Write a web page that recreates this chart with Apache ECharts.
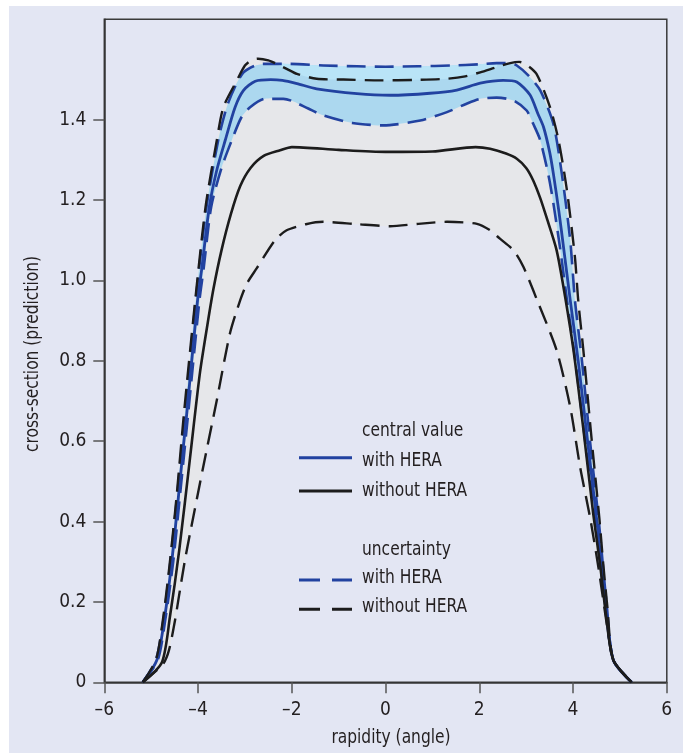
<!DOCTYPE html>
<html>
<head>
<meta charset="utf-8">
<script src="https://cdn.jsdelivr.net/npm/echarts@6/dist/echarts.min.js"></script>
<style>
  html, body { margin: 0; padding: 0; background: #ffffff; }
  #bg { position: absolute; left: 9px; top: 6px; width: 674px; height: 747px; background: #e3e6f3; }
  #chart { position: absolute; left: 0; top: 0; width: 690px; height: 755px; }
</style>
</head>
<body>
<div id="bg"></div>
<div id="chart"></div>
<script>
// ---------- data ----------
const xTicks = [-6, -4, -2, 0, 2, 4, 6];
const yTicks = [0, 0.2, 0.4, 0.6, 0.8, 1.0, 1.2, 1.4];

// central value, with HERA (blue solid)
const withCentralX = [-5.18, -4.88, -4.72, -4.56, -4.42, -4.31, -4.24, -4.01, -3.92, -3.76, -3.60, -3.42, -3.21, -3.03, -2.78, -2.45, -2.20, -1.89, -1.47, -0.61, 0.10, 0.95, 1.52, 2.02, 2.51, 2.80, 3.08, 3.25, 3.37, 3.50, 3.58, 3.70, 3.80, 3.94, 4.11, 4.33, 4.51, 4.60, 4.70, 4.86, 5.25];
const withCentralY = [0, 0.055, 0.155, 0.30, 0.46, 0.59, 0.67, 0.951, 1.03, 1.183, 1.275, 1.349, 1.431, 1.473, 1.496, 1.50, 1.498, 1.490, 1.477, 1.465, 1.461, 1.466, 1.474, 1.491, 1.498, 1.494, 1.462, 1.415, 1.382, 1.32, 1.266, 1.17, 1.08, 0.951, 0.80, 0.58, 0.40, 0.30, 0.19, 0.055, 0];

// uncertainty, with HERA (blue dashed)
const withUpperX = [-5.18, -4.90, -4.74, -4.59, -4.45, -4.28, -4.05, -3.82, -3.57, -3.39, -3.20, -3.03, -2.80, -2.61, -2.04, -1.33, -0.61, 0.00, 0.70, 1.40, 2.00, 2.37, 2.66, 2.80, 3.05, 3.30, 3.58, 3.76, 3.94, 4.04, 4.19, 4.38, 4.55, 4.63, 4.72, 4.86, 5.25];
const withUpperY = [0, 0.055, 0.155, 0.30, 0.46, 0.67, 0.951, 1.183, 1.349, 1.431, 1.485, 1.518, 1.534, 1.539, 1.539, 1.535, 1.533, 1.532, 1.533, 1.535, 1.538, 1.541, 1.541, 1.535, 1.51, 1.473, 1.390, 1.266, 1.10, 0.951, 0.80, 0.58, 0.40, 0.30, 0.19, 0.055, 0];
const withLowerX = [-5.18, -4.86, -4.70, -4.53, -4.39, -4.21, -3.97, -3.88, -3.72, -3.50, -3.28, -3.08, -2.89, -2.57, -2.18, -2.00, -1.65, -1.33, -0.71, -0.05, 0.74, 1.31, 1.73, 2.02, 2.37, 2.73, 3.01, 3.15, 3.30, 3.51, 3.72, 3.87, 4.05, 4.28, 4.48, 4.58, 4.69, 4.86, 5.25];
const withLowerY = [0, 0.055, 0.155, 0.30, 0.46, 0.67, 0.951, 1.03, 1.183, 1.28, 1.349, 1.405, 1.431, 1.452, 1.452, 1.447, 1.428, 1.411, 1.392, 1.386, 1.398, 1.419, 1.440, 1.452, 1.455, 1.448, 1.423, 1.39, 1.349, 1.241, 1.083, 0.951, 0.80, 0.58, 0.40, 0.30, 0.19, 0.055, 0];

// central value, without HERA (black solid)
const withoutCentralX = [-5.18, -4.77, -4.60, -4.40, -4.17, -3.96, -3.80, -3.67, -3.50, -3.30, -3.10, -2.88, -2.60, -2.25, -2.00, -1.00, 0.00, 1.00, 1.92, 2.23, 2.57, 2.80, 3.00, 3.15, 3.30, 3.44, 3.65, 3.83, 4.01, 4.22, 4.43, 4.58, 4.70, 4.86, 5.25];
const withoutCentralY = [0, 0.05, 0.163, 0.33, 0.56, 0.77, 0.89, 0.98, 1.075, 1.165, 1.235, 1.280, 1.310, 1.324, 1.332, 1.325, 1.320, 1.321, 1.332, 1.328, 1.316, 1.303, 1.280, 1.249, 1.205, 1.155, 1.075, 0.96, 0.826, 0.63, 0.42, 0.29, 0.17, 0.055, 0];

// uncertainty, without HERA (black dashed)
const withoutUpperX = [-5.18, -4.90, -4.75, -4.60, -4.46, -4.30, -4.06, -3.84, -3.60, -3.46, -3.17, -3.00, -2.85, -2.72, -2.50, -2.32, -2.10, -1.89, -1.47, -0.90, -0.10, 0.60, 1.31, 1.70, 2.02, 2.37, 2.66, 2.85, 2.98, 3.22, 3.51, 3.69, 3.87, 4.04, 4.11, 4.22, 4.40, 4.56, 4.64, 4.73, 4.86, 5.25];
const withoutUpperY = [0, 0.055, 0.155, 0.30, 0.46, 0.67, 0.951, 1.183, 1.349, 1.431, 1.498, 1.535, 1.549, 1.552, 1.548, 1.539, 1.526, 1.514, 1.502, 1.500, 1.498, 1.499, 1.502, 1.508, 1.518, 1.531, 1.541, 1.544, 1.539, 1.514, 1.431, 1.349, 1.224, 1.058, 0.951, 0.826, 0.60, 0.41, 0.30, 0.19, 0.055, 0];
const withoutLowerX = [-5.18, -4.75, -4.62, -4.49, -4.42, -4.28, -4.17, -3.89, -3.60, -3.32, -3.10, -2.96, -2.75, -2.36, -2.11, -1.70, -1.33, -0.60, 0.10, 0.70, 1.31, 1.95, 2.23, 2.44, 2.73, 2.94, 3.22, 3.65, 3.94, 4.15, 4.36, 4.54, 4.75, 4.86, 5.25];
const withoutLowerY = [0, 0.045, 0.08, 0.155, 0.205, 0.304, 0.371, 0.536, 0.702, 0.868, 0.951, 0.992, 1.03, 1.10, 1.125, 1.140, 1.146, 1.140, 1.135, 1.141, 1.146, 1.141, 1.125, 1.104, 1.075, 1.034, 0.955, 0.826, 0.685, 0.536, 0.412, 0.287, 0.122, 0.055, 0];

// ---------- helpers ----------
const pairs = (xs, ys) => xs.map((x, i) => [x, ys[i]]);
const FONT = '"Liberation Sans Narrow", "DejaVu Sans Condensed", "Liberation Sans", sans-serif';
const TXT = '#231f20';
const BLUE = '#2242a0';
const BLACK = '#1c1c1c';
const DASH = [19, 9];

function polySeries(up, loRev, color, z) {
  const all = up.concat(loRev);
  return {
    type: 'custom', coordinateSystem: 'cartesian2d', silent: true, z: z,
    data: [[0, 0]],
    renderItem: function (params, api) {
      const pts = all.map(p => api.coord(p));
      return { type: 'polygon', shape: { points: pts, smooth: 0.25 }, style: { fill: color, stroke: null } };
    }
  };
}
function band(upX, upY, loX, loY, color, z) {
  return polySeries(pairs(upX, upY), pairs(loX, loY).slice(1, -1).reverse(), color, z);
}
// region of the HERA band lying above the no-HERA band (drawn lighter)
function topSliver(color, z) {
  const inRange = p => p[0] >= -2.45 && p[0] <= 2.62;
  const up = pairs(withUpperX, withUpperY).filter(inRange);
  const lo = pairs(withoutUpperX, withoutUpperY).filter(inRange).reverse();
  return polySeries(up, lo, color, z);
}
function line(xs, ys, color, width, dashed, z) {
  return {
    type: 'line', data: pairs(xs, ys), symbol: 'none', smooth: 0.25, silent: true, z: z,
    lineStyle: { color: color, width: width, type: dashed ? DASH : 'solid', cap: 'butt', join: 'round' }
  };
}
function label(text, x, y, extra) {
  return Object.assign({
    type: 'text', x: x, y: y, scaleX: 0.86, silent: true,
    style: { text: text, font: '20px ' + FONT, fill: TXT, textAlign: 'left', textVerticalAlign: 'middle' }
  }, extra || {});
}

const chart = echarts.init(document.getElementById('chart'), null, { renderer: 'canvas' });
const lx0 = 299, lx1 = 352, tx = 362;
chart.setOption({
  backgroundColor: 'transparent',
  animation: false,
  textStyle: { fontFamily: FONT },
  grid: { left: 104.3, right: 23.2, top: 19.3, bottom: 72.7, show: true, borderColor: '#3a3a3a', borderWidth: 1.5, backgroundColor: 'transparent' },
  xAxis: {
    type: 'value', min: -6, max: 6, interval: 2,
    axisLine: { show: true, onZero: false, lineStyle: { color: '#333', width: 1.5 } },
    axisTick: { show: true, inside: false, length: 11, lineStyle: { color: '#555', width: 1.5 }, customValues: xTicks },
    axisLabel: { fontFamily: FONT, fontSize: 19, color: TXT, margin: 18, customValues: xTicks,
      formatter: v => String(v).replace('-', '\u2013') },
    splitLine: { show: false }
  },
  yAxis: {
    type: 'value', min: 0, max: 1.65,
    axisLine: { show: true, onZero: false, lineStyle: { color: '#333', width: 1.5 } },
    axisTick: { show: true, inside: false, length: 11, lineStyle: { color: '#555', width: 1.5 }, customValues: yTicks },
    axisLabel: { fontFamily: FONT, fontSize: 19, color: TXT, margin: 18, customValues: yTicks,
      formatter: v => (v === 0 ? '0' : v.toFixed(1)) },
    splitLine: { show: false }
  },
  graphic: [
    label('rapidity (angle)', 391, 738, { style: { text: 'rapidity (angle)', font: '20px ' + FONT, fill: TXT, textAlign: 'center', textVerticalAlign: 'middle' } }),
    label('cross-section (prediction)', 33, 354, { rotation: Math.PI / 2, style: { text: 'cross-section (prediction)', font: '20px ' + FONT, fill: TXT, textAlign: 'center', textVerticalAlign: 'middle' } }),
    label('central value', tx, 431),
    { type: 'line', silent: true, shape: { x1: lx0, y1: 457.7, x2: lx1, y2: 457.7 }, style: { stroke: BLUE, lineWidth: 3 } },
    label('with HERA', tx, 461),
    { type: 'line', silent: true, shape: { x1: lx0, y1: 491, x2: lx1, y2: 491 }, style: { stroke: BLACK, lineWidth: 3 } },
    label('without HERA', tx, 490.5),
    label('uncertainty', tx, 549.5),
    { type: 'line', silent: true, shape: { x1: lx0, y1: 580, x2: lx1, y2: 580 }, style: { stroke: BLUE, lineWidth: 3, lineDash: [21, 12] } },
    label('with HERA', tx, 577.5),
    { type: 'line', silent: true, shape: { x1: lx0, y1: 609.3, x2: lx1, y2: 609.3 }, style: { stroke: BLACK, lineWidth: 3, lineDash: [21, 12] } },
    label('without HERA', tx, 607)
  ],
  series: [
    band(withoutUpperX, withoutUpperY, withoutLowerX, withoutLowerY, '#e6e7ea', 1),
    band(withUpperX, withUpperY, withLowerX, withLowerY, '#acd8ef', 2),
    topSliver('#b9e4f7', 2),
    line(withUpperX, withUpperY, BLUE, 2.6, true, 3),
    line(withLowerX, withLowerY, BLUE, 2.6, true, 3),
    line(withCentralX, withCentralY, BLUE, 2.8, false, 3),
    line(withoutLowerX, withoutLowerY, BLACK, 2.4, true, 4),
    line(withoutUpperX, withoutUpperY, BLACK, 2.4, true, 4),
    line(withoutCentralX, withoutCentralY, BLACK, 2.6, false, 4)
  ]
});
</script>
</body>
</html>
